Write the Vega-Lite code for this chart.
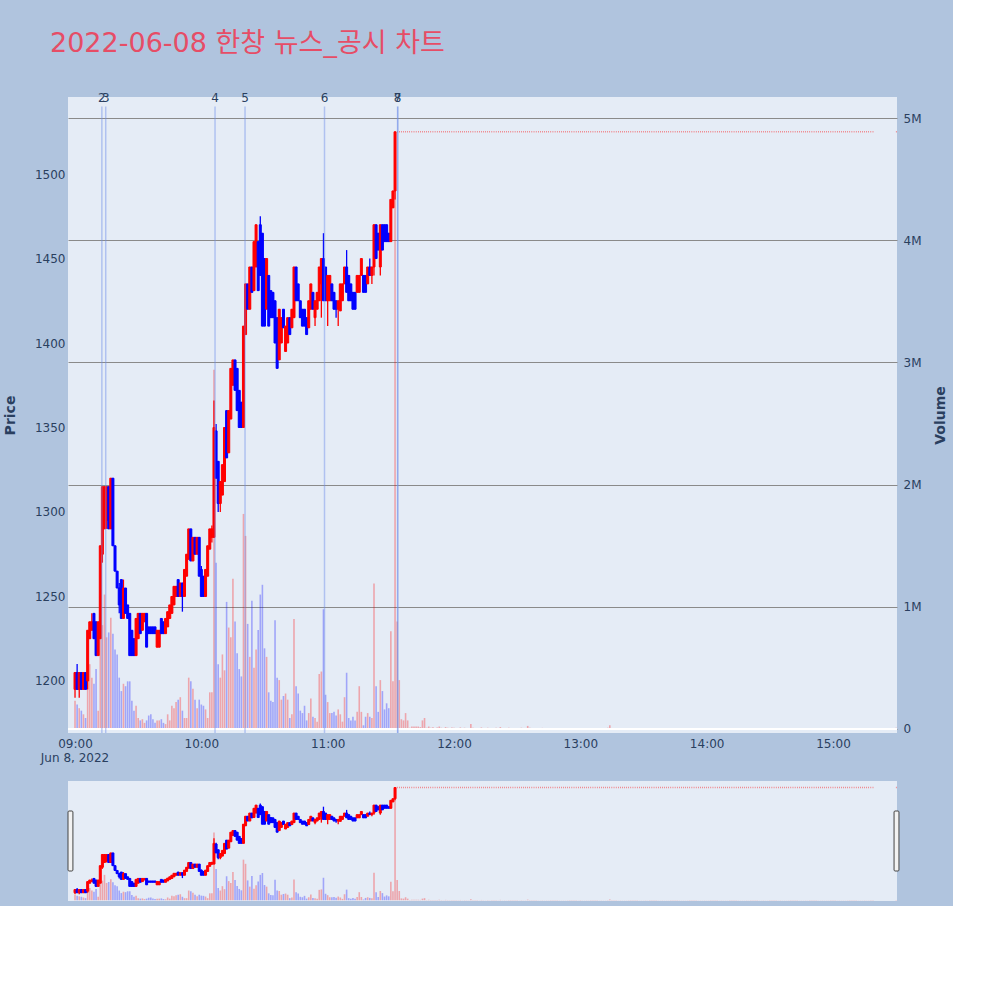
{
 "$schema": "https://vega.github.io/schema/vega-lite/v6.json",
 "background": "#b0c4de",
 "padding": {"left": 3, "top": 30, "right": 5, "bottom": 5},
 "title": {"text": "2022-06-08 한창 뉴스_공시 차트", "anchor": "start", "frame": "group", "dx": -18, "fontSize": 27, "font": "DejaVu Sans, Noto Sans CJK KR", "fontWeight": "normal", "color": "#e64d66", "offset": 34},
 "config": {
  "view": {"fill": "#e5ecf6", "stroke": null},
  "font": "DejaVu Sans",
  "axis": {"labelFont": "DejaVu Sans", "labelFontSize": 12, "labelColor": "#2a3f5f", "titleFont": "DejaVu Sans", "titleFontSize": 14, "titleColor": "#2a3f5f", "domain": false, "ticks": false}
 },
 "data": {"format": {"parse": {"t": "date:'%Y-%m-%d %H:%M'"}}, "values": [
{"t":"2022-06-08 09:00","o":1195,"h":1205,"l":1190,"c":1205,"v":230000},
{"t":"2022-06-08 09:01","o":1205,"h":1210,"l":1195,"c":1195,"v":200000},
{"t":"2022-06-08 09:02","o":1195,"h":1205,"l":1190,"c":1205,"v":170000},
{"t":"2022-06-08 09:03","o":1205,"h":1205,"l":1195,"c":1195,"v":150000},
{"t":"2022-06-08 09:04","o":1195,"h":1205,"l":1195,"c":1205,"v":120000},
{"t":"2022-06-08 09:05","o":1205,"h":1205,"l":1195,"c":1195,"v":90000},
{"t":"2022-06-08 09:06","o":1200,"h":1230,"l":1195,"c":1230,"v":390000},
{"t":"2022-06-08 09:07","o":1225,"h":1235,"l":1225,"c":1235,"v":530000},
{"t":"2022-06-08 09:08","o":1230,"h":1240,"l":1230,"c":1235,"v":420000},
{"t":"2022-06-08 09:09","o":1240,"h":1240,"l":1225,"c":1225,"v":370000},
{"t":"2022-06-08 09:10","o":1235,"h":1235,"l":1215,"c":1215,"v":490000},
{"t":"2022-06-08 09:11","o":1215,"h":1235,"l":1215,"c":1235,"v":150000},
{"t":"2022-06-08 09:12","o":1225,"h":1280,"l":1225,"c":1280,"v":1090000},
{"t":"2022-06-08 09:13","o":1275,"h":1315,"l":1270,"c":1315,"v":850000},
{"t":"2022-06-08 09:14","o":1290,"h":1315,"l":1290,"c":1315,"v":1100000},
{"t":"2022-06-08 09:15","o":1295,"h":1315,"l":1290,"c":1315,"v":750000},
{"t":"2022-06-08 09:16","o":1315,"h":1315,"l":1290,"c":1290,"v":790000},
{"t":"2022-06-08 09:17","o":1290,"h":1320,"l":1290,"c":1320,"v":910000},
{"t":"2022-06-08 09:18","o":1320,"h":1320,"l":1280,"c":1280,"v":780000},
{"t":"2022-06-08 09:19","o":1280,"h":1280,"l":1265,"c":1265,"v":650000},
{"t":"2022-06-08 09:20","o":1265,"h":1265,"l":1255,"c":1255,"v":610000},
{"t":"2022-06-08 09:21","o":1255,"h":1258,"l":1240,"c":1245,"v":420000},
{"t":"2022-06-08 09:22","o":1260,"h":1260,"l":1237,"c":1237,"v":310000},
{"t":"2022-06-08 09:23","o":1237,"h":1260,"l":1237,"c":1255,"v":370000},
{"t":"2022-06-08 09:24","o":1255,"h":1255,"l":1240,"c":1240,"v":350000},
{"t":"2022-06-08 09:25","o":1245,"h":1245,"l":1237,"c":1237,"v":390000},
{"t":"2022-06-08 09:26","o":1240,"h":1240,"l":1215,"c":1215,"v":390000},
{"t":"2022-06-08 09:27","o":1230,"h":1230,"l":1215,"c":1215,"v":230000},
{"t":"2022-06-08 09:28","o":1225,"h":1225,"l":1215,"c":1215,"v":150000},
{"t":"2022-06-08 09:29","o":1215,"h":1237,"l":1215,"c":1237,"v":190000},
{"t":"2022-06-08 09:30","o":1225,"h":1240,"l":1225,"c":1240,"v":90000},
{"t":"2022-06-08 09:31","o":1240,"h":1240,"l":1228,"c":1228,"v":70000},
{"t":"2022-06-08 09:32","o":1230,"h":1240,"l":1230,"c":1240,"v":80000},
{"t":"2022-06-08 09:33","o":1235,"h":1240,"l":1235,"c":1240,"v":50000},
{"t":"2022-06-08 09:34","o":1240,"h":1240,"l":1220,"c":1220,"v":70000},
{"t":"2022-06-08 09:35","o":1232,"h":1232,"l":1228,"c":1228,"v":110000},
{"t":"2022-06-08 09:36","o":1232,"h":1232,"l":1228,"c":1228,"v":120000},
{"t":"2022-06-08 09:37","o":1232,"h":1232,"l":1228,"c":1228,"v":80000},
{"t":"2022-06-08 09:38","o":1232,"h":1232,"l":1228,"c":1228,"v":50000},
{"t":"2022-06-08 09:39","o":1220,"h":1230,"l":1220,"c":1230,"v":70000},
{"t":"2022-06-08 09:40","o":1220,"h":1230,"l":1220,"c":1230,"v":70000},
{"t":"2022-06-08 09:41","o":1237,"h":1237,"l":1228,"c":1228,"v":80000},
{"t":"2022-06-08 09:42","o":1235,"h":1235,"l":1228,"c":1228,"v":50000},
{"t":"2022-06-08 09:43","o":1228,"h":1237,"l":1228,"c":1237,"v":40000},
{"t":"2022-06-08 09:44","o":1232,"h":1241,"l":1232,"c":1241,"v":120000},
{"t":"2022-06-08 09:45","o":1237,"h":1245,"l":1237,"c":1245,"v":70000},
{"t":"2022-06-08 09:46","o":1240,"h":1250,"l":1240,"c":1250,"v":190000},
{"t":"2022-06-08 09:47","o":1245,"h":1256,"l":1245,"c":1256,"v":170000},
{"t":"2022-06-08 09:48","o":1250,"h":1256,"l":1250,"c":1256,"v":220000},
{"t":"2022-06-08 09:49","o":1260,"h":1260,"l":1250,"c":1250,"v":240000},
{"t":"2022-06-08 09:50","o":1250,"h":1258,"l":1250,"c":1258,"v":260000},
{"t":"2022-06-08 09:51","o":1258,"h":1258,"l":1241,"c":1250,"v":150000},
{"t":"2022-06-08 09:52","o":1250,"h":1266,"l":1250,"c":1266,"v":90000},
{"t":"2022-06-08 09:53","o":1262,"h":1275,"l":1262,"c":1275,"v":90000},
{"t":"2022-06-08 09:54","o":1272,"h":1290,"l":1272,"c":1290,"v":420000},
{"t":"2022-06-08 09:55","o":1290,"h":1290,"l":1271,"c":1271,"v":390000},
{"t":"2022-06-08 09:56","o":1271,"h":1285,"l":1271,"c":1285,"v":330000},
{"t":"2022-06-08 09:57","o":1285,"h":1285,"l":1275,"c":1275,"v":240000},
{"t":"2022-06-08 09:58","o":1275,"h":1285,"l":1275,"c":1285,"v":170000},
{"t":"2022-06-08 09:59","o":1285,"h":1285,"l":1262,"c":1262,"v":240000},
{"t":"2022-06-08 10:00","o":1266,"h":1268,"l":1250,"c":1250,"v":200000},
{"t":"2022-06-08 10:01","o":1262,"h":1262,"l":1250,"c":1250,"v":190000},
{"t":"2022-06-08 10:02","o":1250,"h":1266,"l":1250,"c":1266,"v":160000},
{"t":"2022-06-08 10:03","o":1262,"h":1280,"l":1262,"c":1280,"v":90000},
{"t":"2022-06-08 10:04","o":1278,"h":1290,"l":1278,"c":1290,"v":300000},
{"t":"2022-06-08 10:05","o":1285,"h":1292,"l":1282,"c":1290,"v":300000},
{"t":"2022-06-08 10:06","o":1285,"h":1366,"l":1285,"c":1350,"v":2940000},
{"t":"2022-06-08 10:07","o":1348,"h":1352,"l":1320,"c":1320,"v":1360000},
{"t":"2022-06-08 10:08","o":1330,"h":1330,"l":1300,"c":1305,"v":530000},
{"t":"2022-06-08 10:09","o":1305,"h":1318,"l":1300,"c":1318,"v":420000},
{"t":"2022-06-08 10:10","o":1310,"h":1328,"l":1310,"c":1328,"v":610000},
{"t":"2022-06-08 10:11","o":1318,"h":1350,"l":1318,"c":1350,"v":480000},
{"t":"2022-06-08 10:12","o":1360,"h":1360,"l":1332,"c":1332,"v":1040000},
{"t":"2022-06-08 10:13","o":1335,"h":1360,"l":1335,"c":1360,"v":830000},
{"t":"2022-06-08 10:14","o":1355,"h":1385,"l":1355,"c":1385,"v":750000},
{"t":"2022-06-08 10:15","o":1375,"h":1390,"l":1375,"c":1390,"v":1230000},
{"t":"2022-06-08 10:16","o":1390,"h":1390,"l":1372,"c":1372,"v":880000},
{"t":"2022-06-08 10:17","o":1385,"h":1385,"l":1360,"c":1360,"v":620000},
{"t":"2022-06-08 10:18","o":1372,"h":1372,"l":1350,"c":1350,"v":490000},
{"t":"2022-06-08 10:19","o":1365,"h":1365,"l":1350,"c":1350,"v":430000},
{"t":"2022-06-08 10:20","o":1350,"h":1410,"l":1350,"c":1410,"v":1760000},
{"t":"2022-06-08 10:21","o":1405,"h":1435,"l":1405,"c":1435,"v":1580000},
{"t":"2022-06-08 10:22","o":1435,"h":1435,"l":1420,"c":1420,"v":860000},
{"t":"2022-06-08 10:23","o":1420,"h":1445,"l":1420,"c":1445,"v":590000},
{"t":"2022-06-08 10:24","o":1445,"h":1445,"l":1430,"c":1430,"v":1050000},
{"t":"2022-06-08 10:25","o":1431,"h":1460,"l":1431,"c":1460,"v":500000},
{"t":"2022-06-08 10:26","o":1445,"h":1470,"l":1445,"c":1470,"v":650000},
{"t":"2022-06-08 10:27","o":1460,"h":1460,"l":1431,"c":1431,"v":810000},
{"t":"2022-06-08 10:28","o":1470,"h":1475,"l":1440,"c":1440,"v":1100000},
{"t":"2022-06-08 10:29","o":1465,"h":1465,"l":1410,"c":1410,"v":1180000},
{"t":"2022-06-08 10:30","o":1450,"h":1450,"l":1410,"c":1410,"v":660000},
{"t":"2022-06-08 10:31","o":1420,"h":1450,"l":1420,"c":1450,"v":590000},
{"t":"2022-06-08 10:32","o":1440,"h":1440,"l":1410,"c":1410,"v":300000},
{"t":"2022-06-08 10:33","o":1431,"h":1431,"l":1415,"c":1415,"v":230000},
{"t":"2022-06-08 10:34","o":1430,"h":1430,"l":1415,"c":1415,"v":220000},
{"t":"2022-06-08 10:35","o":1425,"h":1425,"l":1400,"c":1400,"v":890000},
{"t":"2022-06-08 10:36","o":1415,"h":1415,"l":1385,"c":1385,"v":420000},
{"t":"2022-06-08 10:37","o":1390,"h":1420,"l":1390,"c":1420,"v":400000},
{"t":"2022-06-08 10:38","o":1400,"h":1415,"l":1400,"c":1415,"v":240000},
{"t":"2022-06-08 10:39","o":1420,"h":1420,"l":1409,"c":1409,"v":270000},
{"t":"2022-06-08 10:40","o":1395,"h":1410,"l":1395,"c":1410,"v":290000},
{"t":"2022-06-08 10:41","o":1400,"h":1415,"l":1400,"c":1415,"v":240000},
{"t":"2022-06-08 10:42","o":1415,"h":1415,"l":1405,"c":1405,"v":90000},
{"t":"2022-06-08 10:43","o":1409,"h":1420,"l":1409,"c":1420,"v":120000},
{"t":"2022-06-08 10:44","o":1415,"h":1445,"l":1415,"c":1445,"v":900000},
{"t":"2022-06-08 10:45","o":1445,"h":1445,"l":1425,"c":1425,"v":350000},
{"t":"2022-06-08 10:46","o":1435,"h":1435,"l":1425,"c":1425,"v":290000},
{"t":"2022-06-08 10:47","o":1425,"h":1425,"l":1415,"c":1415,"v":150000},
{"t":"2022-06-08 10:48","o":1420,"h":1420,"l":1410,"c":1410,"v":130000},
{"t":"2022-06-08 10:49","o":1420,"h":1420,"l":1410,"c":1410,"v":190000},
{"t":"2022-06-08 10:50","o":1415,"h":1415,"l":1405,"c":1405,"v":70000},
{"t":"2022-06-08 10:51","o":1409,"h":1425,"l":1409,"c":1425,"v":130000},
{"t":"2022-06-08 10:52","o":1420,"h":1435,"l":1420,"c":1435,"v":250000},
{"t":"2022-06-08 10:53","o":1430,"h":1430,"l":1420,"c":1420,"v":100000},
{"t":"2022-06-08 10:54","o":1415,"h":1425,"l":1410,"c":1425,"v":90000},
{"t":"2022-06-08 10:55","o":1420,"h":1430,"l":1420,"c":1430,"v":60000},
{"t":"2022-06-08 10:56","o":1425,"h":1445,"l":1425,"c":1445,"v":450000},
{"t":"2022-06-08 10:57","o":1435,"h":1450,"l":1415,"c":1450,"v":470000},
{"t":"2022-06-08 10:58","o":1450,"h":1465,"l":1425,"c":1425,"v":980000},
{"t":"2022-06-08 10:59","o":1445,"h":1445,"l":1425,"c":1425,"v":280000},
{"t":"2022-06-08 11:00","o":1425,"h":1440,"l":1410,"c":1440,"v":220000},
{"t":"2022-06-08 11:01","o":1425,"h":1440,"l":1425,"c":1440,"v":130000},
{"t":"2022-06-08 11:02","o":1435,"h":1435,"l":1425,"c":1425,"v":130000},
{"t":"2022-06-08 11:03","o":1430,"h":1430,"l":1420,"c":1420,"v":140000},
{"t":"2022-06-08 11:04","o":1425,"h":1425,"l":1415,"c":1420,"v":110000},
{"t":"2022-06-08 11:05","o":1420,"h":1425,"l":1410,"c":1425,"v":160000},
{"t":"2022-06-08 11:06","o":1419,"h":1435,"l":1419,"c":1435,"v":120000},
{"t":"2022-06-08 11:07","o":1425,"h":1435,"l":1425,"c":1435,"v":60000},
{"t":"2022-06-08 11:08","o":1435,"h":1445,"l":1435,"c":1445,"v":260000},
{"t":"2022-06-08 11:09","o":1445,"h":1455,"l":1430,"c":1430,"v":460000},
{"t":"2022-06-08 11:10","o":1440,"h":1440,"l":1425,"c":1425,"v":90000},
{"t":"2022-06-08 11:11","o":1435,"h":1435,"l":1425,"c":1425,"v":70000},
{"t":"2022-06-08 11:12","o":1430,"h":1430,"l":1420,"c":1420,"v":100000},
{"t":"2022-06-08 11:13","o":1430,"h":1430,"l":1420,"c":1420,"v":70000},
{"t":"2022-06-08 11:14","o":1430,"h":1440,"l":1430,"c":1440,"v":140000},
{"t":"2022-06-08 11:15","o":1430,"h":1440,"l":1430,"c":1440,"v":350000},
{"t":"2022-06-08 11:16","o":1440,"h":1450,"l":1440,"c":1450,"v":140000},
{"t":"2022-06-08 11:17","o":1440,"h":1440,"l":1430,"c":1430,"v":30000},
{"t":"2022-06-08 11:18","o":1440,"h":1440,"l":1430,"c":1430,"v":100000},
{"t":"2022-06-08 11:19","o":1435,"h":1445,"l":1435,"c":1445,"v":130000},
{"t":"2022-06-08 11:20","o":1445,"h":1450,"l":1440,"c":1440,"v":100000},
{"t":"2022-06-08 11:21","o":1440,"h":1445,"l":1435,"c":1445,"v":90000},
{"t":"2022-06-08 11:22","o":1445,"h":1470,"l":1440,"c":1470,"v":1190000},
{"t":"2022-06-08 11:23","o":1470,"h":1470,"l":1450,"c":1450,"v":350000},
{"t":"2022-06-08 11:24","o":1465,"h":1465,"l":1455,"c":1455,"v":140000},
{"t":"2022-06-08 11:25","o":1445,"h":1470,"l":1440,"c":1470,"v":400000},
{"t":"2022-06-08 11:26","o":1470,"h":1470,"l":1455,"c":1455,"v":310000},
{"t":"2022-06-08 11:27","o":1470,"h":1470,"l":1460,"c":1460,"v":160000},
{"t":"2022-06-08 11:28","o":1470,"h":1470,"l":1460,"c":1460,"v":210000},
{"t":"2022-06-08 11:29","o":1465,"h":1465,"l":1460,"c":1460,"v":170000},
{"t":"2022-06-08 11:30","o":1460,"h":1485,"l":1460,"c":1485,"v":800000},
{"t":"2022-06-08 11:31","o":1480,"h":1490,"l":1480,"c":1490,"v":390000},
{"t":"2022-06-08 11:32","o":1490,"h":1525,"l":1485,"c":1525,"v":4880000},
{"t":"2022-06-08 11:33","o":1525,"h":1525,"l":1525,"c":1525,"v":880000},
{"t":"2022-06-08 11:34","o":1525,"h":1525,"l":1525,"c":1525,"v":400000},
{"t":"2022-06-08 11:35","o":1525,"h":1525,"l":1525,"c":1525,"v":80000},
{"t":"2022-06-08 11:36","o":1525,"h":1525,"l":1525,"c":1525,"v":70000},
{"t":"2022-06-08 11:37","o":1525,"h":1525,"l":1525,"c":1525,"v":130000},
{"t":"2022-06-08 11:38","o":1525,"h":1525,"l":1525,"c":1525,"v":70000},
{"t":"2022-06-08 11:39","o":1525,"h":1525,"l":1525,"c":1525,"v":10000},
{"t":"2022-06-08 11:40","o":1525,"h":1525,"l":1525,"c":1525,"v":20000},
{"t":"2022-06-08 11:41","o":1525,"h":1525,"l":1525,"c":1525,"v":20000},
{"t":"2022-06-08 11:42","o":1525,"h":1525,"l":1525,"c":1525,"v":20000},
{"t":"2022-06-08 11:43","o":1525,"h":1525,"l":1525,"c":1525,"v":20000},
{"t":"2022-06-08 11:44","o":1525,"h":1525,"l":1525,"c":1525,"v":15000},
{"t":"2022-06-08 11:45","o":1525,"h":1525,"l":1525,"c":1525,"v":70000},
{"t":"2022-06-08 11:46","o":1525,"h":1525,"l":1525,"c":1525,"v":90000},
{"t":"2022-06-08 11:47","o":1525,"h":1525,"l":1525,"c":1525,"v":10000},
{"t":"2022-06-08 11:48","o":1525,"h":1525,"l":1525,"c":1525,"v":20000},
{"t":"2022-06-08 11:49","o":1525,"h":1525,"l":1525,"c":1525,"v":10000},
{"t":"2022-06-08 11:50","o":1525,"h":1525,"l":1525,"c":1525,"v":15000},
{"t":"2022-06-08 11:51","o":1525,"h":1525,"l":1525,"c":1525,"v":8000},
{"t":"2022-06-08 11:52","o":1525,"h":1525,"l":1525,"c":1525,"v":12000},
{"t":"2022-06-08 11:53","o":1525,"h":1525,"l":1525,"c":1525,"v":20000},
{"t":"2022-06-08 11:54","o":1525,"h":1525,"l":1525,"c":1525,"v":10000},
{"t":"2022-06-08 11:55","o":1525,"h":1525,"l":1525,"c":1525,"v":6000},
{"t":"2022-06-08 11:56","o":1525,"h":1525,"l":1525,"c":1525,"v":15000},
{"t":"2022-06-08 11:57","o":1525,"h":1525,"l":1525,"c":1525,"v":10000},
{"t":"2022-06-08 11:58","o":1525,"h":1525,"l":1525,"c":1525,"v":8000},
{"t":"2022-06-08 11:59","o":1525,"h":1525,"l":1525,"c":1525,"v":12000},
{"t":"2022-06-08 12:00","o":1525,"h":1525,"l":1525,"c":1525,"v":10000},
{"t":"2022-06-08 12:01","o":1525,"h":1525,"l":1525,"c":1525,"v":6000},
{"t":"2022-06-08 12:02","o":1525,"h":1525,"l":1525,"c":1525,"v":8000},
{"t":"2022-06-08 12:03","o":1525,"h":1525,"l":1525,"c":1525,"v":12000},
{"t":"2022-06-08 12:04","o":1525,"h":1525,"l":1525,"c":1525,"v":5000},
{"t":"2022-06-08 12:05","o":1525,"h":1525,"l":1525,"c":1525,"v":10000},
{"t":"2022-06-08 12:06","o":1525,"h":1525,"l":1525,"c":1525,"v":8000},
{"t":"2022-06-08 12:07","o":1525,"h":1525,"l":1525,"c":1525,"v":6000},
{"t":"2022-06-08 12:08","o":1525,"h":1525,"l":1525,"c":1525,"v":40000},
{"t":"2022-06-08 12:09","o":1525,"h":1525,"l":1525,"c":1525,"v":10000},
{"t":"2022-06-08 12:10","o":1525,"h":1525,"l":1525,"c":1525,"v":6000},
{"t":"2022-06-08 12:11","o":1525,"h":1525,"l":1525,"c":1525,"v":8000},
{"t":"2022-06-08 12:12","o":1525,"h":1525,"l":1525,"c":1525,"v":5000},
{"t":"2022-06-08 12:13","o":1525,"h":1525,"l":1525,"c":1525,"v":12000},
{"t":"2022-06-08 12:14","o":1525,"h":1525,"l":1525,"c":1525,"v":7000},
{"t":"2022-06-08 12:15","o":1525,"h":1525,"l":1525,"c":1525,"v":5000},
{"t":"2022-06-08 12:16","o":1525,"h":1525,"l":1525,"c":1525,"v":10000},
{"t":"2022-06-08 12:17","o":1525,"h":1525,"l":1525,"c":1525,"v":6000},
{"t":"2022-06-08 12:18","o":1525,"h":1525,"l":1525,"c":1525,"v":8000},
{"t":"2022-06-08 12:19","o":1525,"h":1525,"l":1525,"c":1525,"v":5000},
{"t":"2022-06-08 12:20","o":1525,"h":1525,"l":1525,"c":1525,"v":9000},
{"t":"2022-06-08 12:21","o":1525,"h":1525,"l":1525,"c":1525,"v":6000},
{"t":"2022-06-08 12:22","o":1525,"h":1525,"l":1525,"c":1525,"v":15000},
{"t":"2022-06-08 12:23","o":1525,"h":1525,"l":1525,"c":1525,"v":5000},
{"t":"2022-06-08 12:24","o":1525,"h":1525,"l":1525,"c":1525,"v":8000},
{"t":"2022-06-08 12:25","o":1525,"h":1525,"l":1525,"c":1525,"v":6000},
{"t":"2022-06-08 12:26","o":1525,"h":1525,"l":1525,"c":1525,"v":10000},
{"t":"2022-06-08 12:27","o":1525,"h":1525,"l":1525,"c":1525,"v":5000},
{"t":"2022-06-08 12:28","o":1525,"h":1525,"l":1525,"c":1525,"v":7000},
{"t":"2022-06-08 12:29","o":1525,"h":1525,"l":1525,"c":1525,"v":6000},
{"t":"2022-06-08 12:30","o":1525,"h":1525,"l":1525,"c":1525,"v":8000},
{"t":"2022-06-08 12:31","o":1525,"h":1525,"l":1525,"c":1525,"v":5000},
{"t":"2022-06-08 12:32","o":1525,"h":1525,"l":1525,"c":1525,"v":10000},
{"t":"2022-06-08 12:33","o":1525,"h":1525,"l":1525,"c":1525,"v":6000},
{"t":"2022-06-08 12:34","o":1525,"h":1525,"l":1525,"c":1525,"v":7000},
{"t":"2022-06-08 12:35","o":1525,"h":1525,"l":1525,"c":1525,"v":25000},
{"t":"2022-06-08 12:36","o":1525,"h":1525,"l":1525,"c":1525,"v":10000},
{"t":"2022-06-08 12:37","o":1525,"h":1525,"l":1525,"c":1525,"v":6000},
{"t":"2022-06-08 12:38","o":1525,"h":1525,"l":1525,"c":1525,"v":5000},
{"t":"2022-06-08 12:39","o":1525,"h":1525,"l":1525,"c":1525,"v":8000},
{"t":"2022-06-08 12:40","o":1525,"h":1525,"l":1525,"c":1525,"v":6000},
{"t":"2022-06-08 12:41","o":1525,"h":1525,"l":1525,"c":1525,"v":5000},
{"t":"2022-06-08 12:42","o":1525,"h":1525,"l":1525,"c":1525,"v":9000},
{"t":"2022-06-08 12:43","o":1525,"h":1525,"l":1525,"c":1525,"v":5000},
{"t":"2022-06-08 12:44","o":1525,"h":1525,"l":1525,"c":1525,"v":7000},
{"t":"2022-06-08 12:45","o":1525,"h":1525,"l":1525,"c":1525,"v":6000},
{"t":"2022-06-08 12:46","o":1525,"h":1525,"l":1525,"c":1525,"v":5000},
{"t":"2022-06-08 12:47","o":1525,"h":1525,"l":1525,"c":1525,"v":8000},
{"t":"2022-06-08 12:48","o":1525,"h":1525,"l":1525,"c":1525,"v":5000},
{"t":"2022-06-08 12:49","o":1525,"h":1525,"l":1525,"c":1525,"v":6000},
{"t":"2022-06-08 12:50","o":1525,"h":1525,"l":1525,"c":1525,"v":7000},
{"t":"2022-06-08 12:51","o":1525,"h":1525,"l":1525,"c":1525,"v":5000},
{"t":"2022-06-08 12:52","o":1525,"h":1525,"l":1525,"c":1525,"v":6000},
{"t":"2022-06-08 12:53","o":1525,"h":1525,"l":1525,"c":1525,"v":5000},
{"t":"2022-06-08 12:54","o":1525,"h":1525,"l":1525,"c":1525,"v":8000},
{"t":"2022-06-08 12:55","o":1525,"h":1525,"l":1525,"c":1525,"v":5000},
{"t":"2022-06-08 12:56","o":1525,"h":1525,"l":1525,"c":1525,"v":6000},
{"t":"2022-06-08 12:57","o":1525,"h":1525,"l":1525,"c":1525,"v":5000},
{"t":"2022-06-08 12:58","o":1525,"h":1525,"l":1525,"c":1525,"v":7000},
{"t":"2022-06-08 12:59","o":1525,"h":1525,"l":1525,"c":1525,"v":5000},
{"t":"2022-06-08 13:00","o":1525,"h":1525,"l":1525,"c":1525,"v":8000},
{"t":"2022-06-08 13:01","o":1525,"h":1525,"l":1525,"c":1525,"v":6000},
{"t":"2022-06-08 13:02","o":1525,"h":1525,"l":1525,"c":1525,"v":5000},
{"t":"2022-06-08 13:03","o":1525,"h":1525,"l":1525,"c":1525,"v":7000},
{"t":"2022-06-08 13:04","o":1525,"h":1525,"l":1525,"c":1525,"v":5000},
{"t":"2022-06-08 13:05","o":1525,"h":1525,"l":1525,"c":1525,"v":6000},
{"t":"2022-06-08 13:06","o":1525,"h":1525,"l":1525,"c":1525,"v":8000},
{"t":"2022-06-08 13:07","o":1525,"h":1525,"l":1525,"c":1525,"v":5000},
{"t":"2022-06-08 13:08","o":1525,"h":1525,"l":1525,"c":1525,"v":6000},
{"t":"2022-06-08 13:09","o":1525,"h":1525,"l":1525,"c":1525,"v":5000},
{"t":"2022-06-08 13:10","o":1525,"h":1525,"l":1525,"c":1525,"v":7000},
{"t":"2022-06-08 13:11","o":1525,"h":1525,"l":1525,"c":1525,"v":5000},
{"t":"2022-06-08 13:12","o":1525,"h":1525,"l":1525,"c":1525,"v":6000},
{"t":"2022-06-08 13:13","o":1525,"h":1525,"l":1525,"c":1525,"v":10000},
{"t":"2022-06-08 13:14","o":1525,"h":1525,"l":1525,"c":1525,"v":30000},
{"t":"2022-06-08 13:15","o":1525,"h":1525,"l":1525,"c":1525,"v":8000},
{"t":"2022-06-08 13:16","o":1525,"h":1525,"l":1525,"c":1525,"v":5000},
{"t":"2022-06-08 13:17","o":1525,"h":1525,"l":1525,"c":1525,"v":6000},
{"t":"2022-06-08 13:18","o":1525,"h":1525,"l":1525,"c":1525,"v":5000},
{"t":"2022-06-08 13:19","o":1525,"h":1525,"l":1525,"c":1525,"v":7000},
{"t":"2022-06-08 13:20","o":1525,"h":1525,"l":1525,"c":1525,"v":5000},
{"t":"2022-06-08 13:21","o":1525,"h":1525,"l":1525,"c":1525,"v":6000},
{"t":"2022-06-08 13:22","o":1525,"h":1525,"l":1525,"c":1525,"v":5000},
{"t":"2022-06-08 13:23","o":1525,"h":1525,"l":1525,"c":1525,"v":8000},
{"t":"2022-06-08 13:24","o":1525,"h":1525,"l":1525,"c":1525,"v":5000},
{"t":"2022-06-08 13:25","o":1525,"h":1525,"l":1525,"c":1525,"v":6000},
{"t":"2022-06-08 13:26","o":1525,"h":1525,"l":1525,"c":1525,"v":5000},
{"t":"2022-06-08 13:27","o":1525,"h":1525,"l":1525,"c":1525,"v":7000},
{"t":"2022-06-08 13:28","o":1525,"h":1525,"l":1525,"c":1525,"v":5000},
{"t":"2022-06-08 13:29","o":1525,"h":1525,"l":1525,"c":1525,"v":6000},
{"t":"2022-06-08 13:30","o":1525,"h":1525,"l":1525,"c":1525,"v":5000},
{"t":"2022-06-08 13:31","o":1525,"h":1525,"l":1525,"c":1525,"v":8000},
{"t":"2022-06-08 13:32","o":1525,"h":1525,"l":1525,"c":1525,"v":5000},
{"t":"2022-06-08 13:33","o":1525,"h":1525,"l":1525,"c":1525,"v":6000},
{"t":"2022-06-08 13:34","o":1525,"h":1525,"l":1525,"c":1525,"v":5000},
{"t":"2022-06-08 13:35","o":1525,"h":1525,"l":1525,"c":1525,"v":7000},
{"t":"2022-06-08 13:36","o":1525,"h":1525,"l":1525,"c":1525,"v":5000},
{"t":"2022-06-08 13:37","o":1525,"h":1525,"l":1525,"c":1525,"v":6000},
{"t":"2022-06-08 13:38","o":1525,"h":1525,"l":1525,"c":1525,"v":5000},
{"t":"2022-06-08 13:39","o":1525,"h":1525,"l":1525,"c":1525,"v":8000},
{"t":"2022-06-08 13:40","o":1525,"h":1525,"l":1525,"c":1525,"v":5000},
{"t":"2022-06-08 13:41","o":1525,"h":1525,"l":1525,"c":1525,"v":6000},
{"t":"2022-06-08 13:42","o":1525,"h":1525,"l":1525,"c":1525,"v":5000},
{"t":"2022-06-08 13:43","o":1525,"h":1525,"l":1525,"c":1525,"v":7000},
{"t":"2022-06-08 13:44","o":1525,"h":1525,"l":1525,"c":1525,"v":5000},
{"t":"2022-06-08 13:45","o":1525,"h":1525,"l":1525,"c":1525,"v":6000},
{"t":"2022-06-08 13:46","o":1525,"h":1525,"l":1525,"c":1525,"v":5000},
{"t":"2022-06-08 13:47","o":1525,"h":1525,"l":1525,"c":1525,"v":8000},
{"t":"2022-06-08 13:48","o":1525,"h":1525,"l":1525,"c":1525,"v":5000},
{"t":"2022-06-08 13:49","o":1525,"h":1525,"l":1525,"c":1525,"v":6000},
{"t":"2022-06-08 13:50","o":1525,"h":1525,"l":1525,"c":1525,"v":5000},
{"t":"2022-06-08 13:51","o":1525,"h":1525,"l":1525,"c":1525,"v":7000},
{"t":"2022-06-08 13:52","o":1525,"h":1525,"l":1525,"c":1525,"v":5000},
{"t":"2022-06-08 13:53","o":1525,"h":1525,"l":1525,"c":1525,"v":6000},
{"t":"2022-06-08 13:54","o":1525,"h":1525,"l":1525,"c":1525,"v":5000},
{"t":"2022-06-08 13:55","o":1525,"h":1525,"l":1525,"c":1525,"v":8000},
{"t":"2022-06-08 13:56","o":1525,"h":1525,"l":1525,"c":1525,"v":5000},
{"t":"2022-06-08 13:57","o":1525,"h":1525,"l":1525,"c":1525,"v":6000},
{"t":"2022-06-08 13:58","o":1525,"h":1525,"l":1525,"c":1525,"v":5000},
{"t":"2022-06-08 13:59","o":1525,"h":1525,"l":1525,"c":1525,"v":7000},
{"t":"2022-06-08 14:00","o":1525,"h":1525,"l":1525,"c":1525,"v":5000},
{"t":"2022-06-08 14:01","o":1525,"h":1525,"l":1525,"c":1525,"v":6000},
{"t":"2022-06-08 14:02","o":1525,"h":1525,"l":1525,"c":1525,"v":5000},
{"t":"2022-06-08 14:03","o":1525,"h":1525,"l":1525,"c":1525,"v":8000},
{"t":"2022-06-08 14:04","o":1525,"h":1525,"l":1525,"c":1525,"v":5000},
{"t":"2022-06-08 14:05","o":1525,"h":1525,"l":1525,"c":1525,"v":6000},
{"t":"2022-06-08 14:06","o":1525,"h":1525,"l":1525,"c":1525,"v":5000},
{"t":"2022-06-08 14:07","o":1525,"h":1525,"l":1525,"c":1525,"v":7000},
{"t":"2022-06-08 14:08","o":1525,"h":1525,"l":1525,"c":1525,"v":5000},
{"t":"2022-06-08 14:09","o":1525,"h":1525,"l":1525,"c":1525,"v":6000},
{"t":"2022-06-08 14:10","o":1525,"h":1525,"l":1525,"c":1525,"v":5000},
{"t":"2022-06-08 14:11","o":1525,"h":1525,"l":1525,"c":1525,"v":8000},
{"t":"2022-06-08 14:12","o":1525,"h":1525,"l":1525,"c":1525,"v":5000},
{"t":"2022-06-08 14:13","o":1525,"h":1525,"l":1525,"c":1525,"v":6000},
{"t":"2022-06-08 14:14","o":1525,"h":1525,"l":1525,"c":1525,"v":5000},
{"t":"2022-06-08 14:15","o":1525,"h":1525,"l":1525,"c":1525,"v":7000},
{"t":"2022-06-08 14:16","o":1525,"h":1525,"l":1525,"c":1525,"v":5000},
{"t":"2022-06-08 14:17","o":1525,"h":1525,"l":1525,"c":1525,"v":6000},
{"t":"2022-06-08 14:18","o":1525,"h":1525,"l":1525,"c":1525,"v":5000},
{"t":"2022-06-08 14:19","o":1525,"h":1525,"l":1525,"c":1525,"v":8000},
{"t":"2022-06-08 14:20","o":1525,"h":1525,"l":1525,"c":1525,"v":5000},
{"t":"2022-06-08 14:21","o":1525,"h":1525,"l":1525,"c":1525,"v":6000},
{"t":"2022-06-08 14:22","o":1525,"h":1525,"l":1525,"c":1525,"v":5000},
{"t":"2022-06-08 14:23","o":1525,"h":1525,"l":1525,"c":1525,"v":7000},
{"t":"2022-06-08 14:24","o":1525,"h":1525,"l":1525,"c":1525,"v":5000},
{"t":"2022-06-08 14:25","o":1525,"h":1525,"l":1525,"c":1525,"v":6000},
{"t":"2022-06-08 14:26","o":1525,"h":1525,"l":1525,"c":1525,"v":5000},
{"t":"2022-06-08 14:27","o":1525,"h":1525,"l":1525,"c":1525,"v":8000},
{"t":"2022-06-08 14:28","o":1525,"h":1525,"l":1525,"c":1525,"v":5000},
{"t":"2022-06-08 14:29","o":1525,"h":1525,"l":1525,"c":1525,"v":6000},
{"t":"2022-06-08 14:30","o":1525,"h":1525,"l":1525,"c":1525,"v":5000},
{"t":"2022-06-08 14:31","o":1525,"h":1525,"l":1525,"c":1525,"v":7000},
{"t":"2022-06-08 14:32","o":1525,"h":1525,"l":1525,"c":1525,"v":5000},
{"t":"2022-06-08 14:33","o":1525,"h":1525,"l":1525,"c":1525,"v":6000},
{"t":"2022-06-08 14:34","o":1525,"h":1525,"l":1525,"c":1525,"v":5000},
{"t":"2022-06-08 14:35","o":1525,"h":1525,"l":1525,"c":1525,"v":8000},
{"t":"2022-06-08 14:36","o":1525,"h":1525,"l":1525,"c":1525,"v":5000},
{"t":"2022-06-08 14:37","o":1525,"h":1525,"l":1525,"c":1525,"v":6000},
{"t":"2022-06-08 14:38","o":1525,"h":1525,"l":1525,"c":1525,"v":5000},
{"t":"2022-06-08 14:39","o":1525,"h":1525,"l":1525,"c":1525,"v":7000},
{"t":"2022-06-08 14:40","o":1525,"h":1525,"l":1525,"c":1525,"v":5000},
{"t":"2022-06-08 14:41","o":1525,"h":1525,"l":1525,"c":1525,"v":6000},
{"t":"2022-06-08 14:42","o":1525,"h":1525,"l":1525,"c":1525,"v":5000},
{"t":"2022-06-08 14:43","o":1525,"h":1525,"l":1525,"c":1525,"v":8000},
{"t":"2022-06-08 14:44","o":1525,"h":1525,"l":1525,"c":1525,"v":5000},
{"t":"2022-06-08 14:45","o":1525,"h":1525,"l":1525,"c":1525,"v":6000},
{"t":"2022-06-08 14:46","o":1525,"h":1525,"l":1525,"c":1525,"v":5000},
{"t":"2022-06-08 14:47","o":1525,"h":1525,"l":1525,"c":1525,"v":7000},
{"t":"2022-06-08 14:48","o":1525,"h":1525,"l":1525,"c":1525,"v":5000},
{"t":"2022-06-08 14:49","o":1525,"h":1525,"l":1525,"c":1525,"v":6000},
{"t":"2022-06-08 14:50","o":1525,"h":1525,"l":1525,"c":1525,"v":5000},
{"t":"2022-06-08 14:51","o":1525,"h":1525,"l":1525,"c":1525,"v":8000},
{"t":"2022-06-08 14:52","o":1525,"h":1525,"l":1525,"c":1525,"v":5000},
{"t":"2022-06-08 14:53","o":1525,"h":1525,"l":1525,"c":1525,"v":6000},
{"t":"2022-06-08 14:54","o":1525,"h":1525,"l":1525,"c":1525,"v":5000},
{"t":"2022-06-08 14:55","o":1525,"h":1525,"l":1525,"c":1525,"v":7000},
{"t":"2022-06-08 14:56","o":1525,"h":1525,"l":1525,"c":1525,"v":5000},
{"t":"2022-06-08 14:57","o":1525,"h":1525,"l":1525,"c":1525,"v":6000},
{"t":"2022-06-08 14:58","o":1525,"h":1525,"l":1525,"c":1525,"v":5000},
{"t":"2022-06-08 14:59","o":1525,"h":1525,"l":1525,"c":1525,"v":8000},
{"t":"2022-06-08 15:00","o":1525,"h":1525,"l":1525,"c":1525,"v":5000},
{"t":"2022-06-08 15:01","o":1525,"h":1525,"l":1525,"c":1525,"v":6000},
{"t":"2022-06-08 15:02","o":1525,"h":1525,"l":1525,"c":1525,"v":5000},
{"t":"2022-06-08 15:03","o":1525,"h":1525,"l":1525,"c":1525,"v":7000},
{"t":"2022-06-08 15:04","o":1525,"h":1525,"l":1525,"c":1525,"v":5000},
{"t":"2022-06-08 15:05","o":1525,"h":1525,"l":1525,"c":1525,"v":6000},
{"t":"2022-06-08 15:06","o":1525,"h":1525,"l":1525,"c":1525,"v":5000},
{"t":"2022-06-08 15:07","o":1525,"h":1525,"l":1525,"c":1525,"v":8000},
{"t":"2022-06-08 15:08","o":1525,"h":1525,"l":1525,"c":1525,"v":5000},
{"t":"2022-06-08 15:09","o":1525,"h":1525,"l":1525,"c":1525,"v":6000},
{"t":"2022-06-08 15:10","o":1525,"h":1525,"l":1525,"c":1525,"v":5000},
{"t":"2022-06-08 15:11","o":1525,"h":1525,"l":1525,"c":1525,"v":7000},
{"t":"2022-06-08 15:12","o":1525,"h":1525,"l":1525,"c":1525,"v":5000},
{"t":"2022-06-08 15:13","o":1525,"h":1525,"l":1525,"c":1525,"v":6000},
{"t":"2022-06-08 15:14","o":1525,"h":1525,"l":1525,"c":1525,"v":5000},
{"t":"2022-06-08 15:15","o":1525,"h":1525,"l":1525,"c":1525,"v":8000},
{"t":"2022-06-08 15:16","o":1525,"h":1525,"l":1525,"c":1525,"v":5000},
{"t":"2022-06-08 15:17","o":1525,"h":1525,"l":1525,"c":1525,"v":6000},
{"t":"2022-06-08 15:18","o":1525,"h":1525,"l":1525,"c":1525,"v":5000},
{"t":"2022-06-08 15:19","o":1525,"h":1525,"l":1525,"c":1525,"v":7000},
{"t":"2022-06-08 15:30","o":1525,"h":1525,"l":1525,"c":1525,"v":10000}
 ]},
 "bounds": "flush",
 "spacing": 48,
 "vconcat": [
  {
   "width": 829, "height": 636,
   "layer": [
    {
     "layer": [
      {
       "mark": {"type": "bar", "size": 1.6, "opacity": 0.3},
       "encoding": {
        "x": {"field": "t", "type": "temporal", "title": null,
              "scale": {"nice": false, "padding": 0, "domain": [{"year": 2022, "month": 6, "date": 8, "hours": 8, "minutes": 56, "seconds": 40}, {"year": 2022, "month": 6, "date": 8, "hours": 15, "minutes": 30, "seconds": 24}]},
              "axis": {"format": "%H:%M", "grid": false, "labelPadding": 5,
                       "values": [{"year": 2022, "month": 6, "date": 8, "hours": 9}, {"year": 2022, "month": 6, "date": 8, "hours": 10}, {"year": 2022, "month": 6, "date": 8, "hours": 11}, {"year": 2022, "month": 6, "date": 8, "hours": 12}, {"year": 2022, "month": 6, "date": 8, "hours": 13}, {"year": 2022, "month": 6, "date": 8, "hours": 14}, {"year": 2022, "month": 6, "date": 8, "hours": 15}]}},
        "y": {"field": "v", "type": "quantitative", "title": "Volume",
              "scale": {"domain": [-33000, 5172000], "nice": false, "zero": false},
              "axis": {"orient": "right", "values": [0, 1000000, 2000000, 3000000, 4000000, 5000000], "labelExpr": "datum.value == 0 ? '0' : format(datum.value / 1000000, 'd') + 'M'", "labelPadding": 6, "titlePadding": 27, "titleAngle": 270, "gridColor": "#8a8a8a"}},
        "y2": {"datum": 0},
        "color": {"condition": {"test": "datum.c >= datum.o", "value": "#ff0000"}, "value": "#0000ff"}
       }
      },
      {
       "data": {"values": [{}]},
       "mark": {"type": "rule", "color": "#ffffff", "strokeWidth": 2},
       "encoding": {"y": {"datum": 0, "type": "quantitative"}}
      }
     ]
    },
    {
     "layer": [
      {
       "mark": {"type": "rule", "strokeWidth": 1.3},
       "encoding": {
        "x": {"field": "t", "type": "temporal"},
        "y": {"field": "l", "type": "quantitative", "title": "Price",
              "scale": {"domain": [1169.2, 1545.6], "nice": false, "zero": false},
              "axis": {"orient": "left", "values": [1200, 1250, 1300, 1350, 1400, 1450, 1500], "format": "d", "labelPadding": 3, "titlePadding": 17, "gridColor": "#ffffff"}},
        "y2": {"field": "h"},
        "color": {"condition": {"test": "datum.c >= datum.o", "value": "#ff0000"}, "value": "#0000ff"}
       }
      },
      {
       "mark": {"type": "bar"},
       "encoding": {
        "x": {"field": "t", "type": "temporal"},
        "y": {"field": "o", "type": "quantitative"},
        "y2": {"field": "c"},
        "size": {"condition": {"test": "datum.o == datum.c", "value": 0.4}, "value": 2},
        "strokeWidth": {"condition": {"test": "datum.o == datum.c", "value": 1.6}, "value": 1},
        "fill": {"condition": {"test": "datum.c >= datum.o", "value": "#ff0000"}, "value": "#0000ff"},
        "stroke": {"condition": {"test": "datum.c >= datum.o", "value": "#ff0000"}, "value": "#0000ff"}
       }
      },
      {
       "data": {"values": [
        {"n": "2", "t": "2022-06-08 09:12:45"},
        {"n": "3", "t": "2022-06-08 09:14:35"},
        {"n": "4", "t": "2022-06-08 10:06:30"},
        {"n": "5", "t": "2022-06-08 10:20:45"},
        {"n": "6", "t": "2022-06-08 10:58:30"},
        {"n": "7", "t": "2022-06-08 11:33:15"},
        {"n": "8", "t": "2022-06-08 11:33:15"}
       ], "format": {"parse": {"t": "date:'%Y-%m-%d %H:%M:%S'"}}},
       "layer": [
        {
         "mark": {"type": "rule", "color": "#6f8fe8", "opacity": 0.45, "strokeWidth": 1.5},
         "encoding": {
          "x": {"field": "t", "type": "temporal"},
          "y": {"datum": 1540, "type": "quantitative"},
          "y2": {"datum": 1169.2}
         }
        },
        {
         "mark": {"type": "text", "fontSize": 12, "color": "#2a3f5f", "baseline": "middle", "dy": 1},
         "encoding": {
          "x": {"field": "t", "type": "temporal"},
          "y": {"datum": 1545.6, "type": "quantitative"},
          "text": {"field": "n"}
         }
        }
       ]
      },
      {
       "data": {"values": [{"label": "Jun 8, 2022"}]},
       "mark": {"type": "text", "fontSize": 12, "color": "#2a3f5f", "baseline": "middle", "dy": 25},
       "encoding": {
        "x": {"datum": {"year": 2022, "month": 6, "date": 8, "hours": 9}, "type": "temporal"},
        "y": {"datum": 1169.2, "type": "quantitative"},
        "text": {"field": "label"}
       }
      }
     ]
    }
   ],
   "resolve": {"scale": {"y": "independent"}}
  },
  {
   "width": 829, "height": 120,
   "layer": [
    {
     "mark": {"type": "bar", "size": 1.6, "opacity": 0.3},
     "encoding": {
      "x": {"field": "t", "type": "temporal", "axis": null,
            "scale": {"nice": false, "padding": 0, "domain": [{"year": 2022, "month": 6, "date": 8, "hours": 8, "minutes": 56, "seconds": 40}, {"year": 2022, "month": 6, "date": 8, "hours": 15, "minutes": 30, "seconds": 24}]}},
      "y": {"field": "v", "type": "quantitative", "axis": null, "scale": {"domain": [-33000, 5172000], "nice": false, "zero": false}},
      "y2": {"datum": 0},
      "color": {"condition": {"test": "datum.c >= datum.o", "value": "#ff0000"}, "value": "#0000ff"}
     }
    },
    {
     "layer": [
      {
       "mark": {"type": "rule", "strokeWidth": 1.3},
       "encoding": {
        "x": {"field": "t", "type": "temporal"},
        "y": {"field": "l", "type": "quantitative", "axis": null, "scale": {"domain": [1169.2, 1545.6], "nice": false, "zero": false}},
        "y2": {"field": "h"},
        "color": {"condition": {"test": "datum.c >= datum.o", "value": "#ff0000"}, "value": "#0000ff"}
       }
      },
      {
       "mark": {"type": "bar"},
       "encoding": {
        "x": {"field": "t", "type": "temporal"},
        "y": {"field": "o", "type": "quantitative"},
        "y2": {"field": "c"},
        "size": {"condition": {"test": "datum.o == datum.c", "value": 0.4}, "value": 2},
        "strokeWidth": {"condition": {"test": "datum.o == datum.c", "value": 1.6}, "value": 1},
        "fill": {"condition": {"test": "datum.c >= datum.o", "value": "#ff0000"}, "value": "#0000ff"},
        "stroke": {"condition": {"test": "datum.c >= datum.o", "value": "#ff0000"}, "value": "#0000ff"}
       }
      },
      {
       "data": {"values": [{"side": "left"}]},
       "mark": {"type": "rect", "fill": "#f2f2f2", "stroke": "#444444", "strokeWidth": 1, "cornerRadius": 1},
       "encoding": {
        "x": {"datum": {"year": 2022, "month": 6, "date": 8, "hours": 8, "minutes": 56, "seconds": 40}, "type": "temporal"},
        "x2": {"datum": {"year": 2022, "month": 6, "date": 8, "hours": 8, "minutes": 59, "seconds": 0}},
        "y": {"datum": 1451.5, "type": "quantitative"},
        "y2": {"datum": 1263.3}
       }
      },
      {
       "data": {"values": [{"side": "right"}]},
       "mark": {"type": "rect", "fill": "#f2f2f2", "stroke": "#444444", "strokeWidth": 1, "cornerRadius": 1},
       "encoding": {
        "x": {"datum": {"year": 2022, "month": 6, "date": 8, "hours": 15, "minutes": 29, "seconds": 0}, "type": "temporal"},
        "x2": {"datum": {"year": 2022, "month": 6, "date": 8, "hours": 15, "minutes": 31, "seconds": 20}},
        "y": {"datum": 1451.5, "type": "quantitative"},
        "y2": {"datum": 1263.3}
       }
      }
     ]
    }
   ],
   "resolve": {"scale": {"y": "independent"}}
  }
 ]
}
